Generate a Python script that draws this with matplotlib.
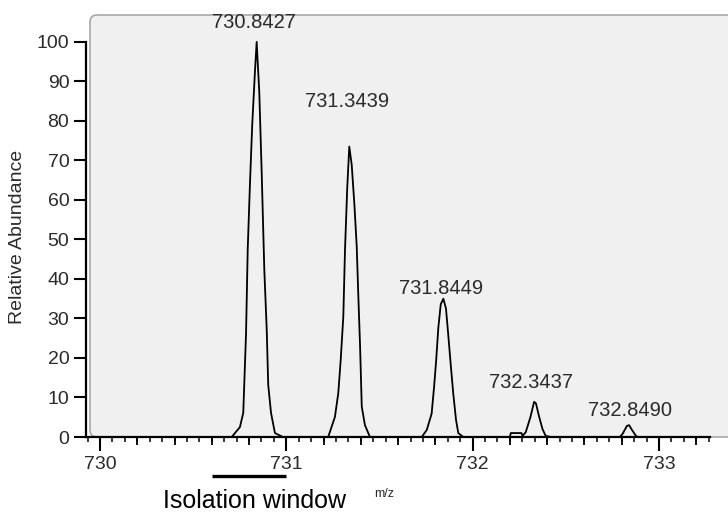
import matplotlib
matplotlib.use("Agg")
import matplotlib.pyplot as plt
from matplotlib.patches import FancyBboxPatch
from matplotlib.ticker import MultipleLocator, FixedLocator, NullFormatter
from matplotlib.transforms import IdentityTransform
import numpy as np

# profile spectrum (m/z, relative abundance)
mz = [729.930, 730.707, 730.751, 730.769, 730.784, 730.793, 730.805, 730.817,
      730.832, 730.841, 730.846, 730.855, 730.868, 730.882, 730.895, 730.903,
      730.918, 730.939, 730.982,
      731.225, 731.261, 731.279, 731.292, 731.306, 731.315, 731.327, 731.338,
      731.351, 731.365, 731.378, 731.386, 731.396, 731.405, 731.422, 731.449,
      731.727, 731.754, 731.780, 731.793, 731.804, 731.816, 731.829, 731.843,
      731.857, 731.869, 731.882, 731.896, 731.911, 731.923, 731.950,
      732.200, 732.205, 732.262, 732.268, 732.285, 732.310, 732.330, 732.340,
      732.355, 732.375, 732.392, 732.420,
      732.790, 732.805, 732.828, 732.840, 732.855, 732.875, 732.885, 733.270]
abundance = [0, 0, 2.5, 6.1, 26.3, 47.6, 64.1, 78.9,
             92.7, 100, 95.4, 87.3, 66.8, 42.3, 27.1, 13.2,
             6.1, 1.0, 0,
             0, 5.1, 11.1, 19.5, 30.5, 47.3, 63.0, 73.5,
             68.9, 59.2, 48.2, 36.5, 22.9, 7.7, 3.0, 0,
             0, 1.8, 5.9, 12.6, 19.2, 27.7, 33.6, 35.0,
             32.5, 26.0, 18.6, 11.0, 4.3, 1.0, 0,
             0, 1.0, 1.0, 0.3, 1.2, 5.0, 8.9, 8.5,
             5.5, 2.0, 0.3, 0,
             0, 0.8, 2.8, 3.0, 1.8, 0.4, 0, 0]

# centroid labels
peak_mz = [730.8427, 731.3439, 731.8449, 732.3437, 732.8490]
peak_labels = ["730.8427", "731.3439", "731.8449", "732.3437", "732.8490"]

# isolation window (centre, width)
iso_center = 730.8
iso_width = 0.4

# label placement (data units, centre of text)
label_x = [730.826, 731.326, 731.830, 732.313, 732.845]
label_y = [105.0, 84.8, 37.5, 13.9, 6.6]

W, H = 728, 513
fig = plt.figure(figsize=(W / 100, H / 100), dpi=100)
plt.rcParams["font.family"] = ["Liberation Sans", "DejaVu Sans"]

# axes box in pixels: left 86, right 710, bottom (img y) 437, top 15
ax = fig.add_axes([86 / W, (H - 437) / H, 624 / W, 422 / H])
ax.set_facecolor("none")

# grey panel behind the plot
panel = FancyBboxPatch((90, H - 437), 700, 422,
                       boxstyle="round,pad=0,rounding_size=7",
                       transform=IdentityTransform(),
                       facecolor="#f0f0f0", edgecolor="#a8a8a8", linewidth=1.2,
                       zorder=0)
fig.add_artist(panel)

ax.plot(mz, abundance, color="black", linewidth=1.3, zorder=3)

ax.set_xlim(729.925, 733.274)
ax.set_ylim(0, 106.8)

for s in ["top", "right"]:
    ax.spines[s].set_visible(False)
ax.spines["left"].set_bounds(0, 100)
ax.spines["left"].set_linewidth(1.6)
ax.spines["bottom"].set_linewidth(1.6)

tick_color = "#2a2a2a"
ax.yaxis.set_major_locator(MultipleLocator(10))
ax.tick_params(axis="y", length=9, width=1.5, pad=3, labelsize=14,
               labelcolor=tick_color)
ax.xaxis.set_major_locator(MultipleLocator(1))
ax.xaxis.set_minor_locator(MultipleLocator(0.2))
ax.tick_params(axis="x", which="major", length=10, width=1.5, pad=4,
               labelsize=14, labelcolor=tick_color)
ax.tick_params(axis="x", which="minor", length=6, width=1.3)

# finest ticks
sec = ax.secondary_xaxis(0)
sec.spines["bottom"].set_visible(False)
fine = np.arange(730.0 - 0.2 / 3, 733.3, 0.2 / 3)
sec.xaxis.set_major_locator(FixedLocator(fine))
sec.xaxis.set_major_formatter(NullFormatter())
sec.tick_params(axis="x", length=3.5, width=1.1)

for x, y, t in zip(label_x, label_y, peak_labels):
    ax.text(x, y, t, ha="center", va="center", fontsize=14.5,
            color=tick_color, zorder=4)

ax.text(-0.109, 0.474, "Relative Abundance", transform=ax.transAxes,
        rotation=90, ha="center", va="center", fontsize=14, color=tick_color)
ax.text(731.524, -14.4, "m/z", ha="center", va="center", fontsize=9,
        color=tick_color, clip_on=False)

# isolation window bar
ax.plot([iso_center - iso_width / 2, iso_center + iso_width / 2], [-9.9, -9.9],
        color="black", linewidth=2.4, clip_on=False, solid_capstyle="butt")
ax.text(iso_center + 0.03, -16.1, "Isolation window", ha="center", va="center",
        fontsize=18, color="black", clip_on=False)

fig.savefig("out.png", dpi=100)
